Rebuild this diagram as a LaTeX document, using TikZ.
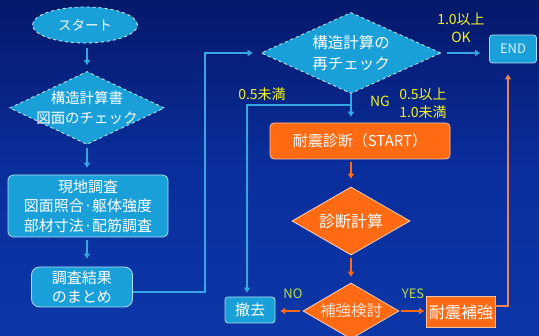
\documentclass[tikz,border=0pt]{standalone}
\usepackage{fontspec}
\setmainfont{Noto Sans CJK JP}
\usetikzlibrary{shapes.geometric,arrows.meta}
\definecolor{bgtop}{HTML}{05186A}
\definecolor{bgmid}{HTML}{0A2E9C}
\definecolor{bgbot}{HTML}{0C36A8}
\definecolor{lblue}{HTML}{1AA0D8}
\definecolor{lline}{HTML}{36A6E6}
\definecolor{orng}{HTML}{FF6A12}
\definecolor{oline}{HTML}{E8845A}
\definecolor{ylw}{HTML}{F4F41C}
\definecolor{ygreen}{HTML}{B8DC48}
\tikzset{
  bluebox/.style={rectangle, rounded corners=5pt, fill=lblue, draw=white!65!lblue, line width=0.8pt, text=white, align=center, inner sep=0pt},
  orbox/.style={rectangle, rounded corners=4pt, fill=orng, draw=white!60!orng, line width=0.8pt, text=white, align=center, inner sep=0pt},
  bdia/.style={diamond, inner sep=0pt, fill=lblue, draw=white!80!lblue, line width=0.8pt, dashed},
  odia/.style={diamond, inner sep=0pt, fill=orng, draw=white!70!orng, line width=0.8pt},
  txt/.style={text=white, align=center, inner sep=0pt},
  lbl/.style={text=ylw, align=center, inner sep=0pt, font=\fontsize{14}{18}\selectfont},
  glbl/.style={text=ygreen, inner sep=0pt, font=\fontsize{13}{15}\selectfont},
  barr/.style={draw=lline, line width=1.3pt, -{Triangle[length=5pt,width=6pt]}},
  oarr/.style={draw=orng, line width=1.3pt, -{Triangle[length=5pt,width=6pt]}},
  olarr/.style={draw=oline, line width=1.3pt, -{Triangle[length=5pt,width=6pt]}},
}
\begin{document}
\begin{tikzpicture}[x=1pt,y=-1pt]
\useasboundingbox (0,0) rectangle (539,336);
\shade[top color=bgtop, bottom color=bgbot, middle color=bgmid] (0,0) rectangle (539,336);

% left column
\node[ellipse, fill=lblue, draw=white!85!lblue, dashed, line width=0.8pt, minimum width=105pt, minimum height=36pt, text=white, font=\fontsize{13.5}{16}\selectfont] (start) at (85,25) {スタート};
\node[bdia, minimum width=155pt, minimum height=73pt] (chk1) at (87,108) {};
\node[txt, font=\fontsize{14.5}{20}\selectfont] (chk1t) at (chk1) {構造計算書\\図面のチェック};
\node[bluebox, minimum width=160pt, minimum height=62pt, font=\fontsize{15}{19.5}\selectfont] (survey) at (88,206) {現地調査\\図面照合·躯体強度\\部材寸法·配筋調査};
\node[bluebox, rounded corners=8pt, minimum width=101pt, minimum height=40pt, font=\fontsize{15}{19}\selectfont] (summary) at (82,287) {調査結果\\のまとめ};

% right part
\node[bdia, minimum width=180pt, minimum height=81pt] (chk2) at (351,53) {};
\node[txt, font=\fontsize{15.5}{21}\selectfont] (chk2t) at (chk2) {構造計算の\\再チェック};
\node[bluebox, rounded corners=3pt, minimum width=47pt, minimum height=28pt, text=white!85!lblue, font=\fontsize{13}{15}\selectfont] (end) at (513,49) {END};
\node[orbox, minimum width=180pt, minimum height=36pt, font=\fontsize{15}{18}\selectfont] (diag) at (360,141) {耐震診断（START）};
\node[odia, minimum width=118pt, minimum height=68pt] (calc) at (351,221) {};
\node[txt, font=\fontsize{16}{18}\selectfont] (calct) at (calc) {診断計算};
\node[odia, minimum width=96pt, minimum height=56pt] (rev) at (351,311) {};
\node[txt, text=white!80!orng, font=\fontsize{15.5}{18}\selectfont] (revt) at (rev) {補強検討};
\node[bluebox, rounded corners=3pt, minimum width=50pt, minimum height=26pt, font=\fontsize{15}{18}\selectfont] (remove) at (250,310) {撤去};
\node[rectangle, fill=orng, draw=white!60!orng, line width=0.8pt, minimum width=69pt, minimum height=31pt, text=white, inner sep=0pt, font=\fontsize{16}{18}\selectfont] (reinf) at (461,312) {耐震補強};

% labels
\node[lbl] (l1) at (461,28) {1.0以上\\OK};
\node[lbl] (l2) at (262,94) {0.5未満};
\node[lbl] (l3) at (380,101) {NG};
\node[lbl] (l4) at (423,103) {0.5以上\\1.0未満};
\node[glbl] (l5) at (293,294) {NO};
\node[glbl] (l6) at (413,294) {YES};

% connectors left
\draw[barr, shorten <=5pt, shorten >=6pt] (start.south -| chk1.north) -- (chk1.north);
\draw[barr, shorten <=3pt, shorten >=7pt] (chk1.south) -- (chk1.south |- survey.north);
\draw[barr, shorten <=3pt, shorten >=8pt] (survey.south -| chk1.south) -- (chk1.south |- summary.north);
\coordinate (sx) at (205,292);
\draw[barr, shorten >=8pt] (summary.east |- sx) -- (sx) |- (chk2.west);

% connectors right
\draw[barr, shorten <=6pt, shorten >=9pt] (chk2.east) -- (end.west |- chk2.east);
\draw[barr, shorten >=6pt] (chk2.south) -- (chk2.south |- diag.north);
\coordinate (br) at (351,105);
\coordinate (lft) at (247,105);
\draw[barr, shorten >=4pt] (br) -- (lft) -- (lft |- remove.north);
\draw[oarr, shorten <=3pt, shorten >=8pt] (diag.south -| calc.north) -- (calc.north);
\draw[oarr, shorten <=3pt, shorten >=6pt] (calc.south) -- (rev.north);
\draw[oarr, shorten <=3pt, shorten >=5pt] (rev.west) -- (remove.east |- rev.west);
\draw[oarr, shorten <=2pt, shorten >=2pt] (rev.east) -- (reinf.west |- rev.east);
\coordinate (ur) at (508,306);
\draw[olarr, shorten >=11pt] (reinf.east |- ur) -- (ur) -- (ur |- end.south);
\end{tikzpicture}
\end{document}
